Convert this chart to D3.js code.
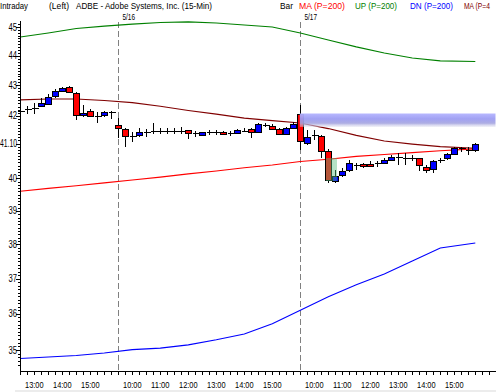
<!DOCTYPE html>
<html><head><meta charset="utf-8">
<script src="https://cdn.jsdelivr.net/npm/d3@7"></script>
<style>
html,body{margin:0;padding:0;background:#fff;}
svg{display:block;font-family:"Liberation Sans",Arial,sans-serif;}
</style></head>
<body>
<svg id="chart" width="496" height="392"></svg>
<script>
// ---- DATA (15-min bars, 5/15 12:30 -> 5/17 15:45) ----
const opens  = [42.16,42.21,42.26,42.32,42.41,42.63,42.79,42.96,42.76,42.02,42.15,42.00,42.00,42.13,
  41.70,41.56,41.35,41.37,41.48,41.50,41.50,41.50,41.50,41.50,41.53,41.43,41.37,41.46,41.46,41.47,41.43,41.45,41.51,41.57,41.48,41.71,41.68,41.57,41.42,41.61,
  42.05,41.11,41.36,41.33,40.86,39.93,40.10,40.26,40.41,40.44,40.45,40.49,40.47,40.57,40.68,40.63,40.63,40.63,40.35,40.29,40.58,40.63,40.77,40.95,40.89,40.89];
const highs  = [42.38,42.32,42.42,42.58,42.72,42.88,42.95,42.99,42.79,42.35,42.22,42.13,42.16,42.15,
  41.91,41.59,41.48,41.60,41.57,41.76,41.61,41.59,41.60,41.63,41.53,41.51,41.48,41.54,41.54,41.50,41.50,41.57,41.60,41.61,41.75,41.75,41.72,41.59,41.62,41.79,
  42.35,41.54,41.54,41.38,40.92,40.26,40.32,40.58,40.49,40.49,40.53,40.53,40.63,40.74,40.79,40.79,40.74,40.65,40.42,40.58,40.65,40.81,40.98,41.00,40.98,41.11];
const lows   = [42.02,42.05,42.05,42.29,42.35,42.58,42.78,42.77,41.86,41.97,41.95,41.77,41.95,41.89,
  41.27,41.00,41.16,41.32,41.32,41.41,41.41,41.40,41.41,41.41,41.24,41.30,41.34,41.37,41.37,41.37,41.34,41.43,41.46,41.29,41.46,41.64,41.54,41.37,41.38,41.59,
  40.89,41.05,41.21,40.63,39.87,39.85,40.04,40.21,40.26,40.34,40.35,40.35,40.45,40.53,40.42,40.42,40.53,40.24,40.16,40.16,40.49,40.58,40.74,40.84,40.74,40.84];
const closes = [42.16,42.21,42.26,42.41,42.63,42.81,42.90,42.79,42.02,42.10,42.00,42.00,42.11,42.13,
  41.59,41.34,41.35,41.48,41.48,41.50,41.50,41.50,41.50,41.50,41.42,41.43,41.46,41.46,41.46,41.41,41.43,41.54,41.51,41.48,41.73,41.71,41.58,41.42,41.60,41.74,
  41.16,41.31,41.36,40.84,39.95,40.08,40.23,40.47,40.41,40.38,40.38,40.49,40.58,40.67,40.68,40.63,40.63,40.40,40.26,40.55,40.58,40.77,40.95,40.95,40.89,41.07];

// indicator readings at bar indices
const indSlots = [0,4,8,12,16,20,24,28,32,36,40,44,48,52,56,60,65];
const maRed  = [39.60,39.69,39.77,39.86,39.95,40.04,40.14,40.23,40.33,40.42,40.53,40.60,40.69,40.75,40.81,40.87,40.93];
const upBand = [44.65,44.79,44.95,45.03,45.10,45.16,45.18,45.14,45.07,45.00,44.79,44.55,44.31,44.10,43.93,43.83,43.81];
const dnBand = [34.77,34.81,34.85,34.92,35.01,35.05,35.14,35.28,35.44,35.72,36.10,36.48,36.82,37.13,37.51,37.89,38.04];
const maDark = [42.52,42.55,42.55,42.50,42.43,42.31,42.17,42.05,41.92,41.84,41.76,41.58,41.36,41.18,41.08,41.00,40.95];

const yTickVals   = [45,44,43,42,41.1,40,39,38,37,36,35];
const yTickLabels = ["45","44","43","42","41.10","40","39","38","37","36","35"];
const xTickSlots  = [2,6,10,16,20,24,28,32,36,42,46,50,54,58,62];
const xTickLabels = ["13:00","14:00","15:00","10:00","11:00","12:00","13:00","14:00","15:00","10:00","11:00","12:00","13:00","14:00","15:00"];
const daySlots  = [14,40];
const dayLabels = ["5/16","5/17"];
const headerTexts = ["Intraday","(Left)","ADBE - Adobe Systems, Inc.  (15-Min)","Bar","MA (P=200)","UP (P=200)","DN (P=200)","MA (P=4"];

// ---- CHART ----
const svg = d3.select("#chart");
const x = d3.scaleLinear().domain([0,65]).range([20.3,475.3]);
const y = d3.scaleLog().domain([35,45]).range([350,27]);
const px = i => Math.round(x(i)) + 0.5;

const defs = svg.append("defs");
const g1 = defs.append("linearGradient").attr("id","band").attr("x1",0).attr("y1",0).attr("x2",0).attr("y2",1);
[["0%","#b4b4ff",0.95],["40%","#9c9cf2",0.95],["72%","#a4a4e0",0.9],["100%","#dcdcec",0.4]].forEach(s=>
  g1.append("stop").attr("offset",s[0]).attr("stop-color",s[1]).attr("stop-opacity",s[2]));

// header
const hdr = [
  {t:0,x:0,w:28,c:"#000"},{t:1,x:49,w:20,c:"#000"},{t:2,x:76,w:136,c:"#000"},{t:3,x:280,w:13,c:"#000"},
  {t:4,x:299,w:46,c:"#ff0000"},{t:5,x:355,w:42,c:"#008000"},{t:6,x:410,w:43,c:"#0000ff"},{t:7,x:464,w:26,c:"#800000"}];
svg.selectAll("text.hdr").data(hdr).join("text").attr("class","hdr")
  .attr("x",d=>d.x).attr("y",9).attr("font-size",9.5).attr("fill",d=>d.c)
  .attr("textLength",d=>d.w).attr("lengthAdjust","spacingAndGlyphs").text(d=>headerTexts[d.t]);

// day separators
daySlots.forEach((s,i)=>{
  svg.append("line").attr("x1",px(s)).attr("x2",px(s)).attr("y1",22).attr("y2",371)
    .attr("stroke","#808080").attr("stroke-dasharray","6,3");
  svg.append("text").attr("x",px(s)+4).attr("y",19.5).attr("font-size",9).attr("textLength",12.5)
    .attr("lengthAdjust","spacingAndGlyphs").text(dayLabels[i]);
});

// indicator lines
const lineGen = d3.line().x((d,i)=>x(indSlots[i])).y(d=>y(d));
[[upBand,"#008000"],[dnBand,"#0000ff"],[maRed,"#ff0000"],[maDark,"#800000"]].forEach(([arr,c])=>{
  svg.append("path").attr("d",lineGen(arr)).attr("fill","none").attr("stroke",c).attr("stroke-width",1.1);
});

// candles
const idx = d3.range(opens.length);
const cg = svg.append("g").attr("shape-rendering","crispEdges");
cg.selectAll("line.wick").data(idx).join("line").attr("class","wick")
  .attr("x1",px).attr("x2",px).attr("y1",i=>Math.round(y(highs[i]))).attr("y2",i=>Math.round(y(lows[i])))
  .attr("stroke","#000");
cg.selectAll("rect.body").data(idx.filter(i=>opens[i]!==closes[i])).join("rect").attr("class","body")
  .attr("x",i=>px(i)-3).attr("width",6)
  .attr("y",i=>Math.round(y(Math.max(opens[i],closes[i])))+0.5)
  .attr("height",i=>Math.max(1,Math.round(y(Math.min(opens[i],closes[i]))-y(Math.max(opens[i],closes[i])))))
  .attr("fill",i=>closes[i]>opens[i]?"#0000ff":"#ff0000").attr("stroke","#000");
cg.selectAll("line.doji").data(idx.filter(i=>opens[i]===closes[i])).join("line").attr("class","doji")
  .attr("x1",i=>px(i)-3).attr("x2",i=>px(i)+4).attr("y1",i=>Math.round(y(opens[i]))+0.5).attr("y2",i=>Math.round(y(opens[i]))+0.5)
  .attr("stroke","#000");

// highlight band & box
svg.append("rect").attr("x",x(40)-0.5).attr("y",113.5).attr("width",496-x(40)).attr("height",13.5).attr("fill","url(#band)");
svg.append("rect").attr("x",326).attr("y",158).attr("width",11).attr("height",23).attr("fill","#5cbf80").attr("opacity",0.45);

// y axis
const ax = svg.append("g").attr("shape-rendering","crispEdges");
ax.append("line").attr("x1",20.5).attr("x2",20.5).attr("y1",21).attr("y2",371).attr("stroke","#000");
const minor = d3.range(346,452).map(v=>v/10);
ax.selectAll("line.ym").data(minor).join("line").attr("class","ym")
  .attr("x1",18).attr("x2",20).attr("y1",d=>Math.round(y(d))+0.5).attr("y2",d=>Math.round(y(d))+0.5).attr("stroke","#000");
ax.selectAll("line.yt").data(yTickVals).join("line").attr("class","yt")
  .attr("x1",16).attr("x2",20).attr("y1",d=>Math.round(y(d))+0.5).attr("y2",d=>Math.round(y(d))+0.5).attr("stroke","#000");
svg.selectAll("text.yl").data(yTickVals).join("text").attr("class","yl")
  .attr("x",17).attr("y",d=>y(d)+3.5).attr("text-anchor","end").attr("font-size",10)
  .attr("textLength",(d,i)=>yTickLabels[i].length>2?17:8.5).attr("lengthAdjust","spacingAndGlyphs")
  .text((d,i)=>yTickLabels[i]);

// x axis
ax.append("line").attr("x1",20).attr("x2",496).attr("y1",371.5).attr("y2",371.5).attr("stroke","#000");
ax.selectAll("line.xt").data(d3.range(0,69)).join("line").attr("class","xt")
  .attr("x1",px).attr("x2",px).attr("y1",371).attr("y2",375).attr("stroke","#000");
svg.selectAll("text.xl").data(xTickSlots).join("text").attr("class","xl")
  .attr("x",d=>x(d)).attr("y",388).attr("text-anchor","middle").attr("font-size",9.5)
  .attr("textLength",18.5).attr("lengthAdjust","spacingAndGlyphs").text((d,i)=>xTickLabels[i]);

svg.append("rect").attr("x",15).attr("y",390).attr("width",481).attr("height",2).attr("fill","#ececec");
</script>
</body></html>
